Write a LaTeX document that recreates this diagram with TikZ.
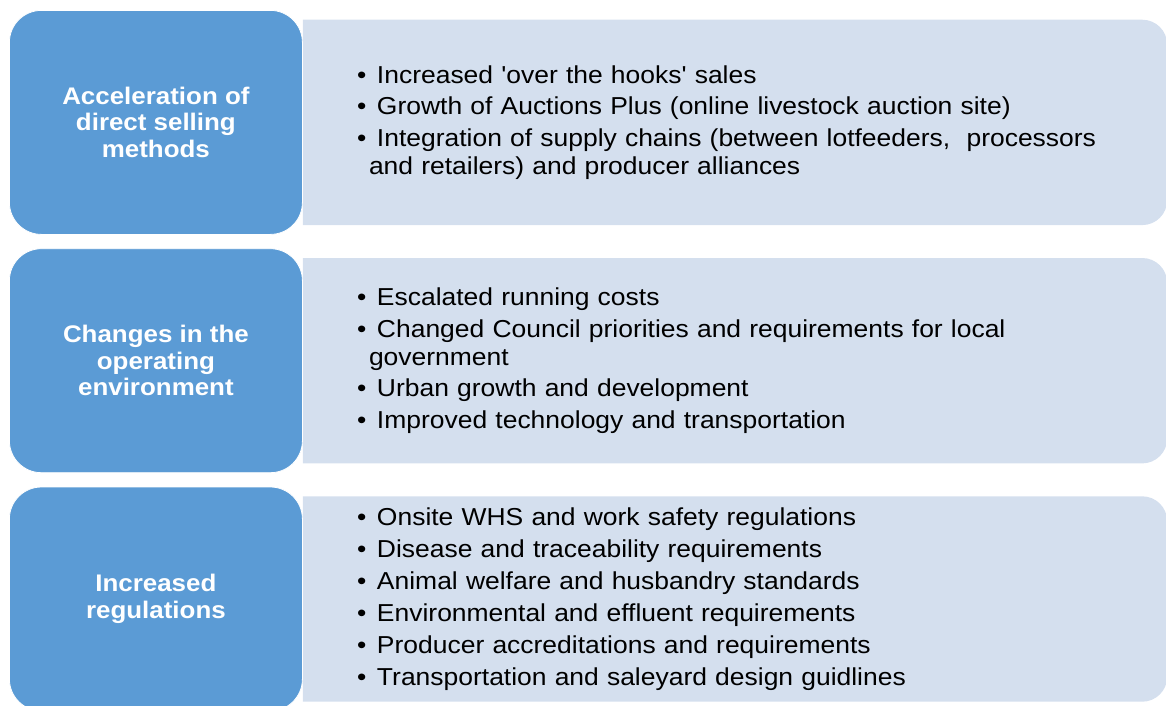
\documentclass[tikz,border=0pt]{standalone}
\usepackage{fontspec}
\newfontfamily\arialish{Liberation Sans}[FakeStretch=1.08]
\usetikzlibrary{positioning,backgrounds}

\definecolor{headblue}{HTML}{5B9BD5}
\definecolor{paneblue}{HTML}{D4DFEE}

% one bullet line, and the run-on line under it
\newcommand{\bul}[1]{\makebox[20pt][l]{•}#1}
\newcommand{\cont}[1]{\hspace*{12pt}#1}

\begin{document}
\begin{tikzpicture}[x=1pt,y=-1pt,
    head/.style={fill=headblue,draw=white,line width=0.8pt,rounded corners=32pt,
      minimum width=293pt,minimum height=224pt,inner sep=0pt,
      text=white,align=center,font=\arialish\fontsize{24}{26.5}\selectfont\bfseries},
    pane/.style={minimum width=864pt,minimum height=205pt,inner xsep=54pt,inner ysep=0pt,
      text width=756pt,align=left,anchor=west,
      font=\arialish\fontsize{24.5}{28}\selectfont}]
    \useasboundingbox (0,0) rectangle (1166,706);
    \clip (0,0) rectangle (1166,706);

    \node[head,anchor=north west] (head1) at (9,10) {Acceleration of\\direct selling\\methods};
    \node[pane,right=0pt of head1] (pane1) {%
      \bul{Increased 'over the hooks' sales}\\[3.5pt]
      \bul{Growth of Auctions Plus (online livestock auction site)}\\[3.5pt]
      \bul{Integration of supply chains (between lotfeeders,\ \ processors}\\
      \cont{and retailers) and producer alliances}};

    \node[head,below=13.5pt of head1] (head2) {Changes in the\\operating\\environment};
    \node[pane,right=0pt of head2] (pane2) {%
      \bul{Escalated running costs}\\[3.5pt]
      \bul{Changed Council priorities and requirements for local}\\
      \cont{government}\\[3.5pt]
      \bul{Urban growth and development}\\[3.5pt]
      \bul{Improved technology and transportation}};

    \node[head,below=13.5pt of head2] (head3) {Increased\\regulations};
    \node[pane,right=0pt of head3] (pane3) {%
      \bul{Onsite WHS and work safety regulations}\\[4pt]
      \bul{Disease and traceability requirements}\\[4pt]
      \bul{Animal welfare and husbandry standards}\\[4pt]
      \bul{Environmental and effluent requirements}\\[4pt]
      \bul{Producer accreditations and requirements}\\[4pt]
      \bul{Transportation and saleyard design guidlines}};

    % panes: square on the left, rounded on the right
    \begin{scope}[on background layer]
        \foreach \p in {pane1,pane2,pane3}
            \fill[paneblue] (\p.west) -- (\p.north west) -- (\p.north)
                [rounded corners=25pt] -- (\p.north east) -- (\p.south east) -- (\p.south)
                [sharp corners] -- (\p.south west) -- cycle;
    \end{scope}
\end{tikzpicture}
\end{document}
